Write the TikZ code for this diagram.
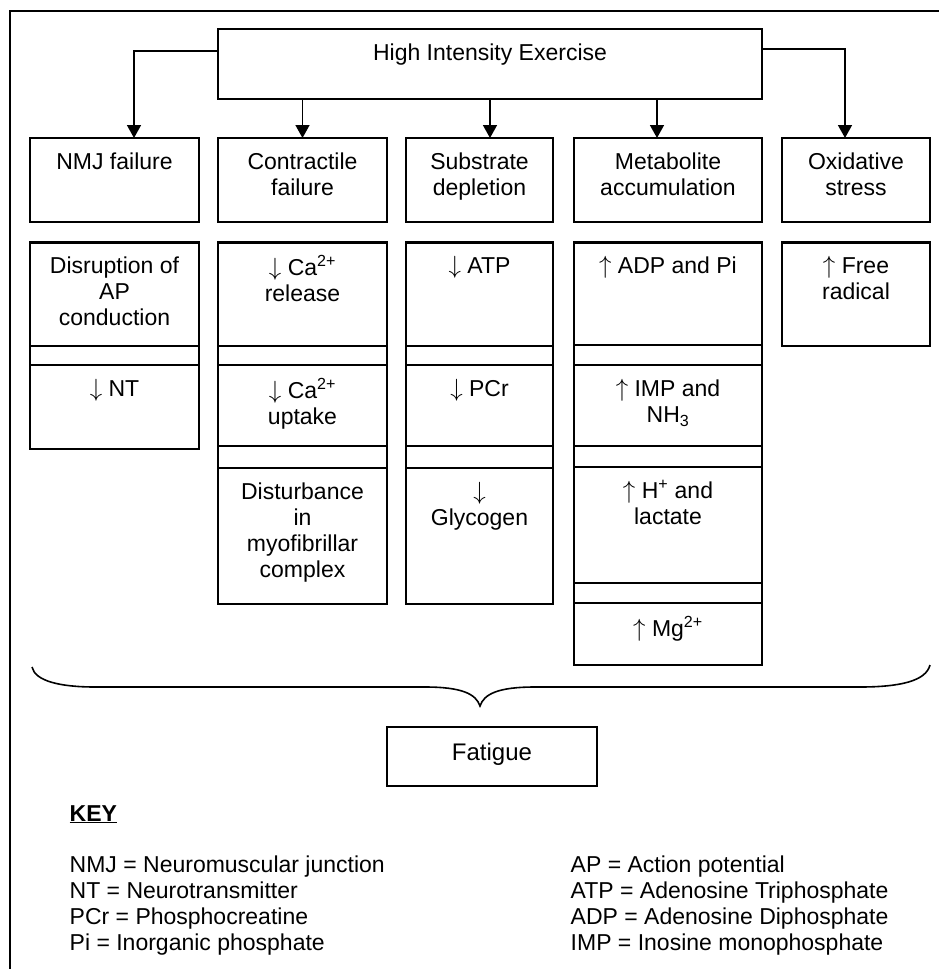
\documentclass[tikz,border=0pt]{standalone}
\usepackage{fontspec}
\setmainfont{Liberation Sans}
\usetikzlibrary{arrows.meta}
\newcommand\hsep[2]{\draw[ln] (#1.west |- 0,#2) -- (#1.east |- 0,#2);}
\newcommand\arrdn{$\downarrow$}
\newcommand\arrup{$\uparrow$}
\begin{document}
\begin{tikzpicture}[x=1pt,y=-1pt,
  ln/.style={line width=1.6pt},
  bx/.style={draw, line width=1.6pt, inner sep=0pt, outer sep=0pt, anchor=north west},
  txt/.style={font=\fontsize{23}{26}\selectfont, align=center, inner sep=0pt, anchor=north},
  arr/.style={line width=1.6pt, -{Triangle[width=14pt,length=13pt]}},
  keyt/.style={font=\fontsize{23}{26}\selectfont, align=left, inner sep=0pt, anchor=north west}]
\useasboundingbox (0,0) rectangle (938,969);
% frame (cut off at right and bottom)
\draw[ln] (945,11) -- (10,11) -- (10,975);

% top box
\node[bx, minimum width=544pt, minimum height=70pt] (hie) at (218,29) {};
\node[txt] (hie-t) at ([yshift=-13pt]hie.north) {\strut High Intensity Exercise};

% row 1
\node[bx, minimum width=169pt, minimum height=84pt] (nmj1) at (30,138) {};
\node[bx, minimum width=169pt, minimum height=84pt] (cf1) at (218,138) {};
\node[bx, minimum width=147pt, minimum height=84pt] (sd1) at (406,138) {};
\node[bx, minimum width=188pt, minimum height=84pt] (ma1) at (574,138) {};
\node[bx, minimum width=148pt, minimum height=84pt] (os1) at (782,138) {};
\node[txt] (nmj1-t) at ([yshift=-13pt]nmj1.north) {\strut NMJ failure};
\node[txt] (cf1-t) at ([yshift=-13pt]cf1.north) {\strut Contractile\\failure};
\node[txt] (sd1-t) at ([yshift=-13pt]sd1.north) {\strut Substrate\\depletion};
\node[txt] (ma1-t) at ([yshift=-13pt]ma1.north) {\strut Metabolite\\accumulation};
\node[txt] (os1-t) at ([yshift=-13pt]os1.north) {\strut Oxidative\\stress};

% arrows
\draw[arr] ([yshift=13pt]hie.west) -| ([xshift=19.5pt]nmj1.north);
\draw[arr] ([yshift=15pt]hie.east) -| ([xshift=-11pt]os1.north);
\coordinate (a1) at (cf1.north);
\coordinate (a2) at ([xshift=10.5pt]sd1.north);
\coordinate (a3) at ([xshift=-11pt]ma1.north);
\draw[arr] (a1 |- hie.south) -- (a1);
\draw[arr] (a2 |- hie.south) -- (a2);
\draw[arr] (a3 |- hie.south) -- (a3);

% row 2 columns
\node[bx, minimum width=169pt, minimum height=207pt] (nmj2) at (30,242) {};
\node[bx, minimum width=169pt, minimum height=362pt] (cf2) at (218,242) {};
\node[bx, minimum width=147pt, minimum height=362pt] (sd2) at (406,242) {};
\node[bx, minimum width=188pt, minimum height=423pt] (ma2) at (574,242) {};
\node[bx, minimum width=148pt, minimum height=104pt] (os2) at (782,242) {};
\foreach \c in {nmj2,cf2,sd2,ma2,os2}{
  \draw[line width=3pt] (\c.north west) -- (\c.north east);
}
\hsep{nmj2}{346}\hsep{nmj2}{365}
\hsep{cf2}{346}\hsep{cf2}{365}\hsep{cf2}{446}\hsep{cf2}{468}
\hsep{sd2}{346}\hsep{sd2}{365}\hsep{sd2}{446}\hsep{sd2}{468}
\hsep{ma2}{345}\hsep{ma2}{365}\hsep{ma2}{446}\hsep{ma2}{467}\hsep{ma2}{583}\hsep{ma2}{603}

\node[txt] (nmj2-a) at (nmj2.north |- 0,255) {\strut Disruption of\\AP\\conduction};
\node[txt] (nmj2-b) at (nmj2.north |- 0,378) {\strut \arrdn\ NT};
\node[txt] (cf2-a) at (cf2.north |- 0,255) {\strut \arrdn\ Ca\textsuperscript{2+}\\release};
\node[txt] (cf2-b) at (cf2.north |- 0,378) {\strut \arrdn\ Ca\textsuperscript{2+}\\uptake};
\node[txt] (cf2-c) at (cf2.north |- 0,481) {\strut Disturbance\\in\\myofibrillar\\complex};
\node[txt] (sd2-a) at (sd2.north |- 0,255) {\strut \arrdn\ ATP};
\node[txt] (sd2-b) at (sd2.north |- 0,378) {\strut \arrdn\ PCr};
\node[txt] (sd2-c) at (sd2.north |- 0,481) {\strut \arrdn\\Glycogen};
\node[txt] (ma2-a) at (ma2.north |- 0,255) {\strut \arrup\ ADP and Pi};
\node[txt] (ma2-b) at (ma2.north |- 0,378) {\strut \arrup\ IMP and\\NH\textsubscript{3}};
\node[txt] (ma2-c) at (ma2.north |- 0,480) {\strut \arrup\ H\textsuperscript{+} and\\lactate};
\node[txt] (ma2-d) at (ma2.north |- 0,616) {\strut \arrup\ Mg\textsuperscript{2+}};
\node[txt] (os2-a) at (os2.north |- 0,255) {\strut \arrup\ Free\\radical};

% brace
\draw[ln] (32,667) .. controls (35,681) and (60,687) .. (95,687) -- (425,687)
  .. controls (462,687) and (476,694) .. (480,706)
  .. controls (484,694) and (498,687) .. (535,687) -- (860,687)
  .. controls (900,687) and (926,681) .. (930,665);

% fatigue
\node[bx, minimum width=210pt, minimum height=59pt] (fat) at (387,727) {};
\node[anchor=base, inner sep=0pt, font=\fontsize{24}{28}\selectfont] (fat-t) at ([yshift=-33.6pt]fat.north) {Fatigue};

% key
\node[anchor=base west, inner sep=0pt, font=\fontsize{23}{26}\selectfont\bfseries] (key) at (69.5,821) {\underline{KEY}};
\node[keyt] (keyl) at (69.5,854) {\strut NMJ = Neuromuscular junction\\NT = Neurotransmitter\\PCr = Phosphocreatine\\Pi = Inorganic phosphate};
\node[keyt] (keyr) at (570.5,854) {\strut AP = Action potential\\ATP = Adenosine Triphosphate\\ADP = Adenosine Diphosphate\\IMP = Inosine monophosphate};
\end{tikzpicture}
\end{document}
